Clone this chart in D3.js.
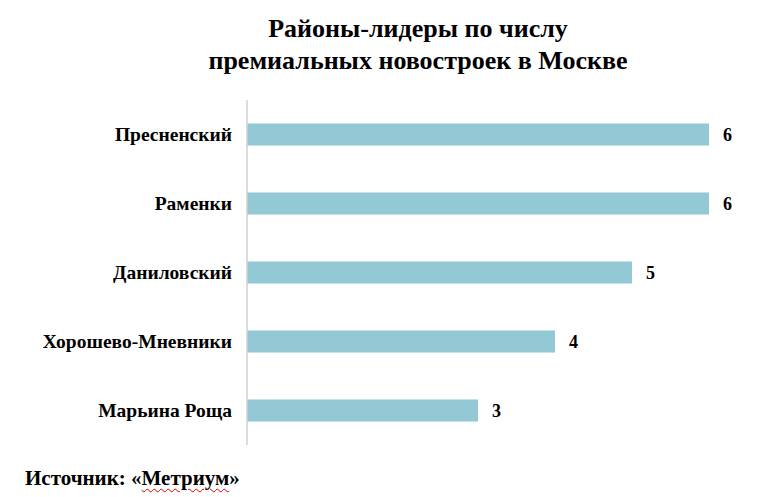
<!DOCTYPE html>
<html><head><meta charset="utf-8">
<script src="https://cdn.jsdelivr.net/npm/d3@7"></script>
<style>
body{margin:0;background:#fff;font-family:"Liberation Serif","Times New Roman",serif;}
#src{position:absolute;left:25px;top:466px;font-size:21px;font-weight:bold;}
#src span{text-decoration:underline wavy #d00;text-decoration-thickness:1px;text-underline-offset:3px;}
</style></head>
<body>
<svg id="chart" width="763" height="497" style="position:absolute;left:0;top:0"></svg>
<div id="src">Источник: «<span>Метриум</span>»</div>
<script>
const districts = ['Пресненский', 'Раменки', 'Даниловский', 'Хорошево-Мневники', 'Марьина Роща'];
const counts = [6, 6, 5, 4, 3];
const titleLines = ['Районы-лидеры по числу', 'премиальных новостроек в Москве'];

const svg = d3.select('#chart');
const x = d3.scaleLinear().domain([0, 6]).range([247, 709]);
const y = d3.scaleBand().domain(districts).range([100, 445]).paddingInner(0.68).paddingOuter(0.34);

svg.selectAll('.title').data(titleLines).enter().append('text')
  .attr('x', 418).attr('y', (d, i) => 37 + i * 32)
  .attr('text-anchor', 'middle').attr('font-size', '26px').attr('font-weight', 'bold')
  .text(d => d);

svg.selectAll('rect').data(districts).enter().append('rect')
  .attr('x', x(0)).attr('y', d => y(d))
  .attr('width', (d, i) => x(counts[i]) - x(0)).attr('height', y.bandwidth())
  .attr('fill', '#93c9d5');

svg.append('line').attr('x1', x(0)).attr('x2', x(0)).attr('y1', 100).attr('y2', 445)
  .attr('stroke', '#d0d0d0').attr('stroke-width', 1.5);

svg.selectAll('.lbl').data(districts).enter().append('text')
  .attr('x', 232).attr('y', d => y(d) + y.bandwidth() / 2)
  .attr('dy', '0.35em').attr('text-anchor', 'end')
  .attr('font-size', '19.5px').attr('font-weight', 'bold').text(d => d);

svg.selectAll('.val').data(districts).enter().append('text')
  .attr('x', (d, i) => x(counts[i]) + 14).attr('y', d => y(d) + y.bandwidth() / 2)
  .attr('dy', '0.35em').attr('font-size', '18px').attr('font-weight', 'bold')
  .text((d, i) => counts[i]);
</script>
</body></html>
